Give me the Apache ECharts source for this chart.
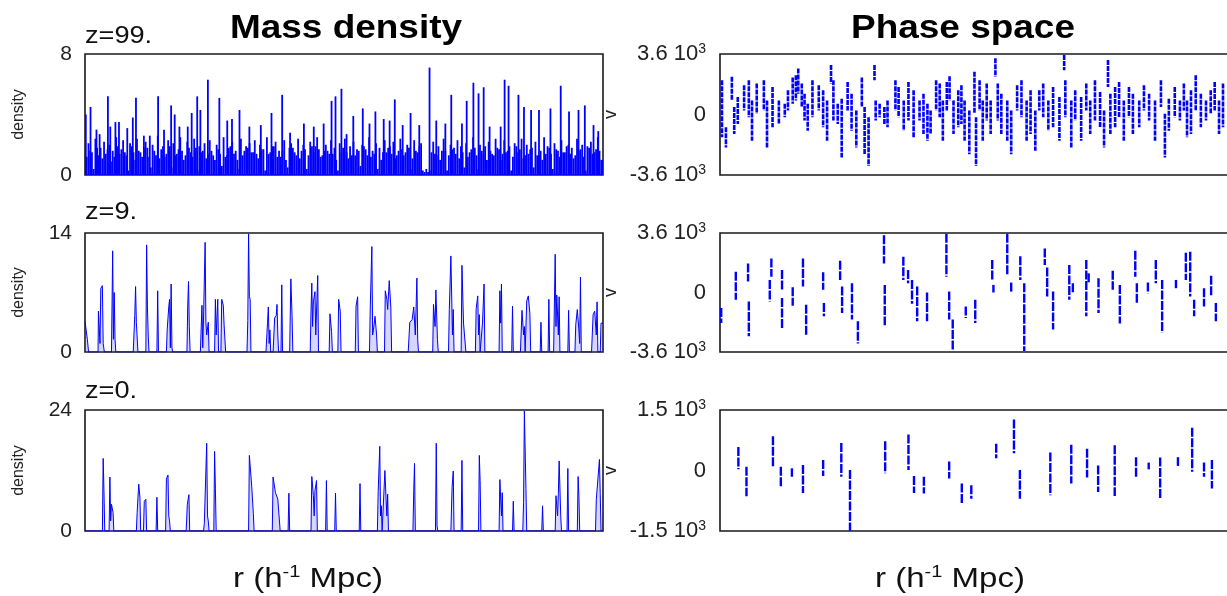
<!DOCTYPE html>
<html><head><meta charset="utf-8">
<script src="https://cdn.jsdelivr.net/npm/echarts@6/dist/echarts.min.js"></script>
<style>html,body{margin:0;padding:0;background:#fff;}#c{width:1227px;height:596px;}</style>
</head><body><div id="c"></div>
<script>
// ---------------- DATA ----------------
const R_MAX = 131.1;               // box length along r (same for all panels)
const panelLabels = ['z=99.', 'z=9.', 'z=0.'];
const densityMax = [8, 14, 24];
const velocityMax = [3600, 3600, 1500];

// z=99 density: fine background fluctuations on a uniform r-grid ...
const bg99 = [
1.9,1.2,2.1,1.6,1.5,0.4,2.4,1.8,1.3,1.8,1.1,2.2,1.4,1.7,2.0,0.9,1.6,1.2,2.5,1.9,
1.4,1.7,2.3,1.5,1.3,0.3,2.1,1.9,1.5,1.0,2.4,1.6,1.5,1.2,1.8,2.2,1.8,1.2,0.5,2.0,
1.6,1.3,2.6,1.1,1.7,1.9,1.2,1.4,2.3,1.9,0.5,2.1,1.3,1.4,1.7,2.5,1.6,1.0,1.3,2.2,
1.8,1.5,1.2,2.4,1.8,0.3,1.9,1.5,1.6,2.1,1.1,1.4,2.3,1.6,1.3,1.0,2.0,1.7,1.4,0.6,
2.5,1.2,1.3,1.8,1.9,2.2,1.4,1.6,1.0,0.4,2.4,1.3,1.6,1.9,1.8,2.1,1.5,1.5,2.3,1.4,
1.1,2.0,1.7,1.7,0.3,2.5,1.4,1.5,1.9,1.9,2.2,1.2,1.6,1.2,1.6,2.3,1.0,0.5,1.8,2.1,
1.8,1.5,1.3,2.4,1.1,1.6,2.0,1.7,0.4,1.3,2.2,1.9,1.5,1.9,2.5,1.7,1.2,1.3,1.6,2.0,
1.6,1.4,2.3,1.4,1.8,1.0,0.3,2.1,1.5,1.8,2.4,1.5,1.1,1.9,1.3,2.2,1.3,1.7,1.6,0.6,
2.0,1.9,1.7,1.3,2.5,1.2,1.6,1.4,2.1,0.4,1.8,1.0,1.5,2.3,1.5,1.8,1.9,1.4,2.2,1.1,
1.3,1.6,2.4,1.7,1.3,1.5,2.0,1.8,0.4,1.1,2.3,1.6,1.5,1.9,2.1,0.3,0.2,0.4,0.2,0.3,
1.5,2.2,1.4,1.3,1.9,1.0,1.6,2.4,1.6,0.3,1.3,2.0,1.7,1.8,1.4,2.3,1.1,1.9,1.5,0.5,
2.1,1.2,1.5,1.7,2.5,1.8,1.3,0.4,2.0,1.6,1.4,1.9,1.0,2.2,1.6,1.4,1.3,2.4,1.8,1.7,
1.0,1.4,2.3,1.5,1.6,1.9,0.3,1.2,2.1,1.9,1.5,1.7,2.4,1.1,1.3,2.0,1.4,1.7,1.8,0.5,
2.2,1.3,1.3,1.6,1.0,2.5,1.4,1.9,1.8,1.4,0.4,2.1,1.7,1.6,1.2,2.3,1.5,1.5,1.9,2.0,
1.4,1.8,1.1,1.3,2.4,1.6,1.7,2.0,1.2,0.3,1.9,1.8,2.2,1.4,1.5,1.7,2.5,1.6,1.0,1.0
];
// ... plus the taller spikes [r, density]
const peaks99 = [
[0.2,4.0],[1.4,4.5],[2.9,3.0],[3.7,2.7],[5.8,5.2],[6.4,3.2],[7.7,3.5],[8.6,3.5],[10.7,3.1],[12.1,3.8],
[12.9,5.1],[14.9,2.6],[16.4,2.6],[18.5,5.2],[20.0,3.0],[21.8,4.6],[22.7,4.0],[23.9,3.2],[26.0,3.2],[27.0,4.1],
[28.4,5.2],[29.2,4.3],[31.1,6.3],[34.0,5.1],[36.0,3.6],[37.2,3.7],[39.1,4.3],[41.6,3.2],[44.5,3.3],[47.2,4.1],
[49.9,5.3],[51.9,2.8],[55.4,3.4],[57.9,3.2],[60.4,3.4],[62.4,4.9],[63.4,5.2],[64.9,5.7],[66.2,2.7],[67.9,3.9],
[70.3,4.4],[72.0,3.4],[73.5,4.2],[75.6,3.7],[77.1,3.6],[78.4,5.0],[80.4,3.3],[82.4,4.1],[84.6,3.3],[87.2,7.1],
[88.9,3.6],[91.2,3.4],[92.7,5.3],[95.4,3.4],[96.6,4.9],[98.3,6.1],[99.6,5.4],[100.9,5.8],[102.4,3.2],[105.2,3.2],
[106.2,6.3],[107.2,5.9],[109.7,5.3],[111.1,4.5],[112.9,4.3],[114.9,4.3],[117.8,4.4],[120.4,5.9],[122.5,4.2],[124.9,4.3],
[126.5,4.6],[128.7,3.3],[129.9,2.9]
];

// z=9 density [r, density]
const rho9 = [
[0.0,3.6],[0.2,3.6],[0.6,1.5],[0.9,0],
[3.3,0],[3.4,4.8],[3.8,1],[4.0,7.5],[4.4,7.8],[4.6,1],[4.9,0],
[6.7,0],[7.0,11.9],[7.2,1.5],[7.4,7.0],[7.6,1.5],[7.8,0],
[12.2,0],[12.6,4.3],[12.8,7.7],[13.0,3.5],[13.2,3.5],[13.4,0],
[15.4,0],[15.6,12.6],[15.8,5.3],[16.0,2],[16.2,0],
[18.2,0],[18.4,7.2],[18.6,0],
[20.6,0],[20.8,2.6],[21.2,5.3],[21.4,6.2],[21.6,0.5],[21.8,8.0],[22.0,0.5],[22.2,0],
[25.8,0],[26.0,5.4],[26.2,8.3],[26.4,3],[26.6,0],
[29.2,0],[29.6,5.5],[29.8,0.5],[30.0,4],[30.4,12.9],[30.6,3.5],[30.8,2],[31.2,3.5],[31.4,0],
[32.8,0],[33.0,6.2],[33.2,2],[33.6,6.2],[33.8,0],
[34.4,0],[34.6,6.2],[35.0,5.5],[35.2,3.2],[35.4,3],[35.6,0],
[41.0,0],[41.2,3.7],[41.4,13.9],[41.6,6.5],[41.8,6.2],[42.0,0],
[45.8,0],[46.2,3.5],[46.4,5.3],[46.6,1],[46.8,2.6],[47.0,0],
[47.6,0],[48.0,4.0],[48.4,4.3],[48.6,5.6],[48.8,2],[49.0,0],
[49.6,0],[49.8,7.9],[50.0,0],
[51.8,0],[52.1,8.6],[52.4,4.3],[52.6,0],
[57.0,0],[57.2,4.8],[57.4,8.1],[57.6,3],[57.8,5.9],[58.2,7.1],[58.4,2],[58.9,9.0],[59.1,0],
[61.8,0],[62.0,4.5],[62.4,2.4],[62.6,0],
[64.0,0],[64.2,6.2],[64.6,4.8],[64.8,0],
[68.4,0],[68.6,5.4],[69.0,6.5],[69.2,0],
[72.0,0],[72.2,5.3],[72.6,12.4],[72.8,2],[73.0,2.6],[73.4,4.2],[73.8,2],[74.0,0],
[75.8,0],[76.0,7.2],[76.4,6.2],[76.6,5],[77.0,8.4],[77.4,5.3],[77.6,0],
[81.8,0],[82.2,3.5],[82.8,3.8],[83.2,5.3],[83.6,2],[84.0,8.7],[84.2,1.5],[84.4,0],
[88.0,0],[88.2,5.6],[88.6,3],[88.8,7.3],[89.2,1.5],[89.4,0],
[92.0,0],[92.2,5],[92.6,11.3],[93.0,2],[93.2,5],[93.4,0],
[95.2,0],[95.4,10.2],[95.8,3.4],[96.2,3.4],[96.4,0],
[98.8,0],[99.0,5.1],[99.4,6.6],[99.6,2],[99.8,4.4],[100.0,0],
[100.4,0],[100.6,3.4],[101.0,8.0],[101.2,0],
[104.8,0],[105.0,7.2],[105.2,3.4],[105.4,8],[105.6,0],
[108.0,0],[108.2,5.4],[108.4,0],
[110.2,0],[110.6,4.9],[111.0,2],[111.2,3],[111.4,0],
[111.6,0],[111.8,6],[112.2,6.6],[112.6,4.5],[112.8,0],
[115.2,0],[115.4,3.5],[115.6,0],
[117.2,0],[117.4,6.2],[117.6,0],
[118.6,0],[119.0,11.5],[119.2,3],[119.4,6.7],[119.8,2],[120.0,6.5],[120.2,0],
[122.2,0],[122.4,4.9],[122.6,0],
[124.0,0],[124.2,3.2],[124.6,5],[125.0,2.6],[125.2,1],[125.4,8.8],[125.6,0],
[128.2,0],[128.6,4.4],[129.0,4.8],[129.4,2],[129.6,5.9],[129.8,0],
[130.4,0],[130.6,3.4],[131.1,3.4]
];

// z=0 density [r, density]
const rho0 = [
[0,0],[4.4,0],[4.6,14.4],[4.8,8],[5.0,0],
[6.1,0],[6.3,10.7],[6.5,2],[6.7,5.3],[7.1,3.7],[7.3,0],
[13.0,0],[13.2,3.7],[13.6,9.3],[13.9,6.7],[14.1,0],
[14.8,0],[15.0,5.9],[15.4,6.3],[15.6,0],
[18.0,0],[18.2,6.7],[18.4,0],
[20.4,0],[20.6,10.3],[21.0,11.1],[21.2,3],[21.4,2],[21.6,0],
[25.6,0],[25.9,5.3],[26.3,7.2],[26.5,0],
[30.0,0],[30.2,1.5],[30.8,17.4],[31.0,3],[31.2,2],[31.4,0],
[32.6,0],[32.8,15.8],[33.0,8.5],[33.2,0],
[41.4,0],[41.6,15],[42.2,8.8],[42.6,3.5],[42.8,0],
[47.4,0],[47.6,10.7],[48.2,7.6],[48.8,6.3],[49.2,6.5],[49.4,0],
[51.4,0],[51.6,7.5],[51.8,0],
[57.2,0],[57.4,10.8],[57.8,7],[58.0,3],[58.2,8],[58.6,10],[58.8,0],
[60.9,0],[61.1,10],[61.3,0],
[63.2,0],[63.4,7.5],[63.6,0],
[69.4,0],[69.6,9.4],[69.8,0],
[74.0,0],[74.2,7.8],[74.6,16.8],[74.8,3],[75.0,5],[75.2,0],
[75.6,0],[75.9,12],[76.2,6.3],[76.4,3],[76.6,7.3],[76.8,0],
[83.0,0],[83.2,8],[83.4,13.4],[83.6,0],
[88.7,0],[88.9,17.4],[89.1,1],[89.3,0],
[92.6,0],[92.9,8.6],[93.2,11.9],[93.4,0],
[95.2,0],[95.4,14],[95.6,0],
[99.6,0],[99.8,15],[100.0,10],[100.2,0],
[104.8,0],[105.0,10.2],[105.4,3],[105.6,7.6],[105.8,0],
[108.2,0],[108.4,5.9],[108.6,0],
[110.8,0],[111.0,5.7],[111.2,23.8],[111.6,8.4],[111.8,0],
[115.6,0],[115.8,5],[116.0,0],
[119.0,0],[119.2,7],[119.6,3],[119.8,7.4],[120.0,13.9],[120.4,3],[120.6,0],
[122.0,0],[122.2,12.4],[122.4,0],
[124.6,0],[124.8,10.8],[125.0,7],[125.2,0],
[129.2,0],[129.4,6.2],[129.8,6.5],[130.2,14.2],[130.4,7.5],[130.6,0],[131.1,0]
];

// Phase-space streams: [r, v_top, v_bottom]
const ps99 = [
[0.5,2040,-1360],[1.5,-760,-1960],[3.0,2240,840],[3.6,440,-1160],[4.5,1040,-560],[6.1,1740,240],[7.3,2040,-160],
[8.1,840,-1560],[9.3,1840,40],[11.1,2040,240],[11.9,840,-1960],[13.3,1640,-760],[14.9,840,-560],[16.4,640,-160],
[17.2,1440,240],[18.4,2200,640],[19.2,2340,840],[19.8,2740,1240],[20.7,1840,440],[21.4,1240,-360],[22.2,640,-960],
[23.4,2040,-160],[25.0,1740,240],[26.1,1440,-760],[27.1,840,-1560],[28.1,2940,1840],[28.7,2040,-360],[29.8,640,-560],
[30.8,940,-2560],[32.3,1940,240],[33.3,1240,-960],[34.5,240,-1960],[35.9,2200,440],[36.6,440,-2360],[37.6,-160,-3060],
[39.1,2940,2040],[39.4,840,-360],[40.4,640,-160],[41.6,440,-560],[42.4,840,-760],[44.4,2040,240],[45.2,1640,-160],
[46.5,840,-960],[47.7,1940,-360],[49.0,1440,-1360],[50.5,840,-360],[51.5,1240,-1160],[52.5,640,-1560],[53.3,240,-1160],
[54.7,2040,240],[55.6,1840,-160],[56.4,840,-1560],[57.4,1940,240],[58.1,2280,840],[59.1,840,-1160],[60.3,1440,-760],
[61.1,1740,-560],[61.9,840,-1560],[63.1,240,-2360],[64.4,2540,40],[64.8,-160,-3060],[65.7,2040,240],[66.5,840,-1560],
[67.5,1840,-360],[68.5,840,-1160],[69.7,3340,2240],[70.3,1840,-360],[71.2,1240,-1160],[72.7,840,-1560],[73.7,240,-2360],
[75.2,1740,240],[76.3,2040,-160],[77.6,840,-1560],[78.6,1440,-1160],[79.8,240,-2160],[80.8,1440,240],[81.8,1840,-160],
[83.1,840,-960],[84.3,1640,-760],[85.9,1040,-1560],[87.1,3540,2640],[87.4,2040,-160],[88.9,840,-1960],[89.9,1440,-360],
[91.4,1040,-1560],[92.7,1840,240],[93.7,840,-1160],[94.9,2040,-360],[96.2,1340,-760],[97.2,240,-1960],[98.2,3240,1640],
[98.8,1240,-1160],[100.0,1640,-760],[101.0,1940,-160],[102.2,840,-1560],[103.5,1640,-160],[104.5,1240,-1160],[106.1,840,-760],
[107.3,1740,240],[108.6,1240,-360],[110.1,840,-1560],[111.6,2040,440],[112.6,40,-2560],[113.6,940,-960],[115.1,1640,-160],
[116.4,840,-360],[117.4,1840,240],[118.2,840,-1360],[119.2,1440,-1160],[120.4,2340,240],[121.7,1240,-760],[123.0,840,-360],
[124.2,1440,40],[125.2,1940,240],[126.3,840,-1160],[127.3,1840,-760]
];
const ps9 = [
[0.3,-940,-1840],[4.0,1260,-440],[7.1,1760,660],[7.3,-540,-2640],[12.6,760,-540],[13.0,2060,960],[15.7,1360,160],
[15.7,-340,-2240],[18.4,320,-800],[21.0,2060,360],[21.8,-740,-2640],[26.1,1220,160],[26.3,-640,-1440],[30.4,1920,760],
[30.9,360,-1240],[33.4,560,-1640],[34.9,-1740,-3080],[41.5,3460,1760],[41.7,460,-1980],[46.4,2160,760],[47.6,1360,560],
[48.6,760,-680],[49.9,360,-1740],[52.4,0,-1740],[57.3,3560,960],[58.0,60,-1640],[58.9,-1640,-3540],[62.2,-840,-1540],
[64.6,-440,-1840],[68.9,1960,760],[69.2,460,0],[72.7,3560,1060],[73.7,600,0],[76.0,2200,760],[77.0,560,-3540],
[82.2,2660,1660],[82.8,1520,-240],[84.3,60,-2240],[88.4,1660,-440],[89.3,560,-40],[92.7,1960,-1440],[93.3,1160,560],
[95.8,860,-1240],[99.4,1320,160],[101.2,460,-1880],[105.1,2520,960],[105.5,560,-680],[108.3,600,-40],[110.3,1960,560],
[111.9,760,-2440],[115.4,760,260],[117.9,2400,760],[119.0,2460,-240],[120.0,-440,-1440],[122.5,260,-840],[124.3,1020,-240],
[125.5,-640,-1740]
];
const ps0 = [
[4.65,581,29],[6.7,96,-640],[13.4,849,75],[15.4,96,-389],[18.2,54,-155],[21.0,138,-556],[26.1,263,-138],[30.7,681,-155],
[32.9,12,-1492],[41.8,723,-71],[47.7,890,12],[49.1,-138,-556],[51.6,-155,-573],[58.0,221,-197],[61.2,-322,-807],
[63.6,-364,-698],[69.9,664,305],[74.4,1266,430],[75.9,12,-698],[83.6,447,-614],[88.9,639,-322],[92.9,539,-172],
[95.7,121,-531],[99.9,623,-631],[105.3,330,-172],[108.5,196,29],[111.4,322,-698],[115.9,330,113],[119.5,1058,-29],
[122.5,196,-155],[124.5,263,-447]
];

// ---------------- BUILD ----------------
const step = R_MAX / (bg99.length - 1);
const rho99 = bg99.map((v, i) => [i * step, v]).concat(peaks99).sort((a, b) => a[0] - b[0]);
const densitySets = [rho99, rho9, rho0];
const phaseSets = [ps99, ps9, ps0];

const FONT = 'Liberation Sans, Arial, sans-serif';
const BLUE = '#0000ff';
const tops = [54, 233, 410];
const heights = [121, 119, 121];

const grid = [], xAxis = [], yAxis = [], series = [];
for (let i = 0; i < 3; i++) {
  grid.push({left: 85, top: tops[i], width: 518, height: heights[i], outerBoundsMode: 'none', containLabel: false, show: true, borderColor: '#1a1a1a', borderWidth: 1.6, backgroundColor: 'transparent'});
  grid.push({left: 720, top: tops[i], width: 518, height: heights[i], outerBoundsMode: 'none', containLabel: false, show: true, borderColor: '#1a1a1a', borderWidth: 1.6, backgroundColor: 'transparent'});
}
for (let i = 0; i < 3; i++) {
  const gl = 2 * i, gr = 2 * i + 1;
  xAxis.push({type: 'value', gridIndex: gl, min: 0, max: R_MAX, show: false});
  xAxis.push({type: 'value', gridIndex: gr, min: 0, max: R_MAX, show: false});
  yAxis.push({
    type: 'value', gridIndex: gl, min: 0, max: densityMax[i], interval: densityMax[i],
    name: 'density', nameLocation: 'middle', nameGap: 58,
    nameTextStyle: {fontFamily: FONT, fontSize: 16, color: '#222'},
    axisLine: {show: false}, axisTick: {show: false}, splitLine: {show: false},
    axisLabel: {fontFamily: FONT, fontSize: 21, color: '#222', margin: 13}
  });
  const vm = velocityMax[i];
  yAxis.push({
    type: 'value', gridIndex: gr, min: -vm, max: vm, interval: vm,
    name: 'v', nameLocation: 'middle', nameGap: 100,
    nameTextStyle: {fontFamily: FONT, fontSize: 18, color: '#222'},
    axisLine: {show: false}, axisTick: {show: false}, splitLine: {show: false},
    axisLabel: {
      fontFamily: FONT, fontSize: 22, color: '#222', margin: 14, lineHeight: 24,
      formatter: v => v === 0 ? '0' : (v / 1000).toFixed(1) + ' 10{s|3}',
      rich: {s: {fontFamily: FONT, fontSize: 14, color: '#222', verticalAlign: 'top', lineHeight: 12, padding: [0, 0, 10, 0]}}
    }
  });
  if (i === 0) {
    // dense z=99 field: one thin vertical bar per sample
    series.push({
      type: 'bar', xAxisIndex: gl, yAxisIndex: gl, data: densitySets[i], barWidth: 1.8,
      itemStyle: {color: BLUE}, animation: false, large: false
    });
  } else {
    series.push({
      type: 'line', xAxisIndex: gl, yAxisIndex: gl, data: densitySets[i],
      showSymbol: false, symbol: 'none', lineStyle: {color: BLUE, width: 1},
      areaStyle: {color: 'rgba(60,60,255,0.3)', origin: 'start'},
      animation: false, clip: true
    });
  }
  const dense = i === 0;
  series.push({
    type: 'custom', xAxisIndex: gr, yAxisIndex: gr, data: phaseSets[i], clip: true, animation: false,
    renderItem: (params, api) => {
      const p1 = api.coord([api.value(0), api.value(1)]);
      const p2 = api.coord([api.value(0), api.value(2)]);
      return {type: 'line', shape: {x1: p1[0], y1: p1[1], x2: p2[0], y2: p2[1]},
        style: {stroke: BLUE, lineWidth: dense ? 2.6 : 2.4, lineDash: dense ? [5, 1] : [9, 1.5]}};
    }
  });
}

const graphic = [
  {type: 'text', x: 346, y: 29, scaleX: 1.12, style: {text: 'Mass density', fontFamily: FONT, fontWeight: 'bold', fontSize: 33, fill: '#000', textAlign: 'center', textVerticalAlign: 'middle'}},
  {type: 'text', x: 963, y: 29, scaleX: 1.12, style: {text: 'Phase space', fontFamily: FONT, fontWeight: 'bold', fontSize: 33, fill: '#000', textAlign: 'center', textVerticalAlign: 'middle'}},
  {type: 'text', x: 85, y: 37, scaleX: 1.18, style: {text: panelLabels[0], fontFamily: FONT, fontSize: 23, fill: '#111', textAlign: 'left', textVerticalAlign: 'middle'}},
  {type: 'text', x: 85, y: 213, scaleX: 1.18, style: {text: panelLabels[1], fontFamily: FONT, fontSize: 23, fill: '#111', textAlign: 'left', textVerticalAlign: 'middle'}},
  {type: 'text', x: 85, y: 392, scaleX: 1.18, style: {text: panelLabels[2], fontFamily: FONT, fontSize: 23, fill: '#111', textAlign: 'left', textVerticalAlign: 'middle'}},
  {type: 'text', x: 308, y: 579, scaleX: 1.18, style: {text: 'r (h{s|-1} Mpc)', fontFamily: FONT, fontSize: 28, fill: '#111', textAlign: 'center', textVerticalAlign: 'middle', lineHeight: 30,
    rich: {s: {fontFamily: FONT, fontSize: 17, fill: '#111', verticalAlign: 'top', lineHeight: 16}}}},
  {type: 'text', x: 950, y: 579, scaleX: 1.18, style: {text: 'r (h{s|-1} Mpc)', fontFamily: FONT, fontSize: 28, fill: '#111', textAlign: 'center', textVerticalAlign: 'middle', lineHeight: 30,
    rich: {s: {fontFamily: FONT, fontSize: 17, fill: '#111', verticalAlign: 'top', lineHeight: 16}}}}
];

const chart = echarts.init(document.getElementById('c'), null, {renderer: 'canvas'});
chart.setOption({animation: false, backgroundColor: '#fff', grid, xAxis, yAxis, series, graphic});
</script></body></html>
